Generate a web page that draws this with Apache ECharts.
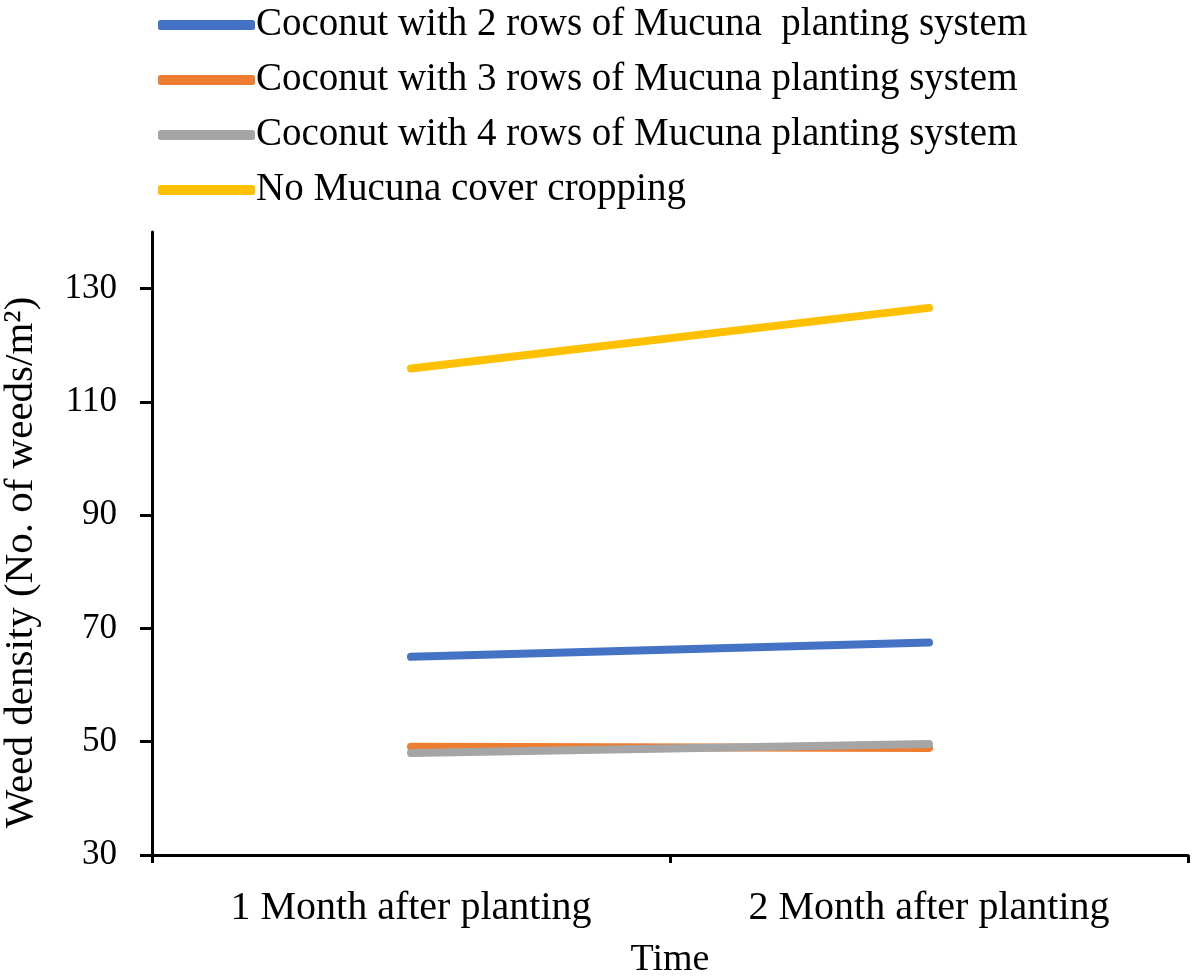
<!DOCTYPE html>
<html><head><meta charset="utf-8">
<script src="https://cdn.jsdelivr.net/npm/echarts@6/dist/echarts.min.js"></script>
<style>html,body{margin:0;padding:0;background:#fff}#c{width:1200px;height:980px}</style>
</head><body><div id="c"></div>
<script>
const categories = ['1 Month after planting', '2 Month after planting'];
const seriesNames = [
  'Coconut with 2 rows of Mucuna  planting system',
  'Coconut with 3 rows of Mucuna planting system',
  'Coconut with 4 rows of Mucuna planting system',
  'No Mucuna cover cropping'
];
const rows2 = [65.0, 67.5];
const rows3 = [49.1, 48.9];
const rows4 = [48.0, 49.6];
const noMucuna = [115.9, 126.6];
const yTicks = [30, 50, 70, 90, 110, 130];
const colors = ['#4472C4', '#ED7D31', '#A5A5A5', '#FFC000'];

const font = 'Liberation Serif, Times New Roman, serif';
const values = [rows2, rows3, rows4, noMucuna];
const chart = echarts.init(document.getElementById('c'));
chart.setOption({
  animation: false,
  color: colors,
  textStyle: { fontFamily: font, color: '#000' },
  legend: {
    orient: 'vertical', left: 153, top: 0,
    itemWidth: 97, itemHeight: 10, itemGap: 15,
    icon: 'roundRect',
    textStyle: { fontFamily: font, fontSize: 39, color: '#000', lineHeight: 40, padding: [0,0,0,-4] },
    data: seriesNames
  },
  grid: { left: 152, right: 12, top: 232, bottom: 125, containLabel: false, outerBoundsMode: 'none' },
  xAxis: {
    type: 'category', data: categories, boundaryGap: true,
    axisLine: { lineStyle: { color: '#000', width: 3 } },
    axisTick: { show: true, length: 8, lineStyle: { color: '#000', width: 3 } },
    axisLabel: { fontFamily: font, fontSize: 40, color: '#000', margin: 33 },
    name: 'Time', nameLocation: 'middle', nameGap: 86,
    nameTextStyle: { fontFamily: font, fontSize: 38, color: '#000' }
  },
  yAxis: {
    type: 'value', min: 30, max: 140,
    axisLine: { show: true, lineStyle: { color: '#000', width: 3 } },
    axisTick: { show: true, length: 12, lineStyle: { color: '#000', width: 3 }, customValues: yTicks },
    axisLabel: { fontFamily: font, fontSize: 35, color: '#000', margin: 35, customValues: yTicks },
    splitLine: { show: false },
    name: 'Weed density (No. of weeds/m²)', nameLocation: 'middle', nameGap: 110, nameRotate: 90,
    nameTextStyle: { fontFamily: font, fontSize: 41, color: '#000', padding: [0, 38, 0, 0] }
  },
  series: seriesNames.map((n, i) => ({
    name: n, type: 'line', data: values[i], symbol: 'none',
    lineStyle: { width: 8, cap: 'round', color: colors[i] }
  }))
});
</script></body></html>
